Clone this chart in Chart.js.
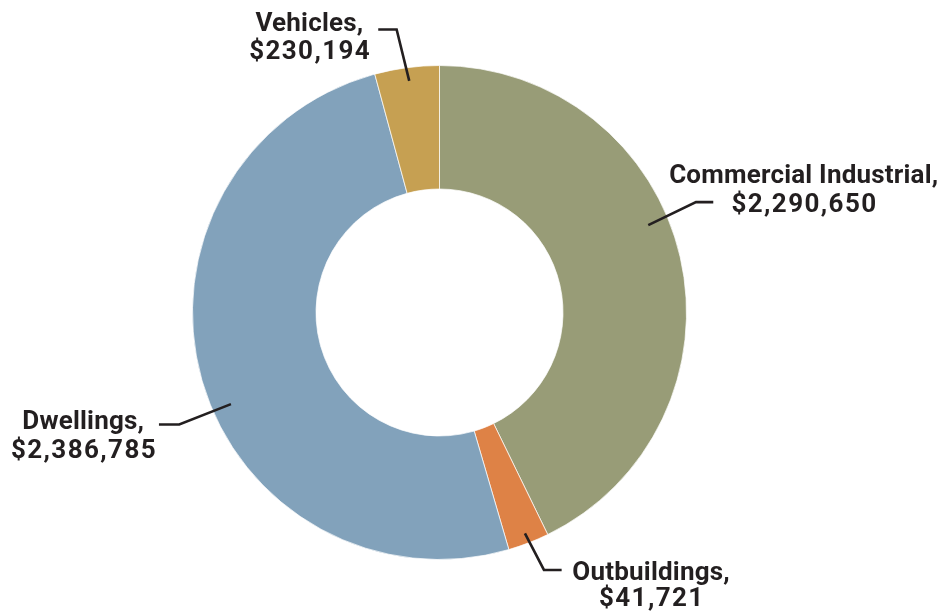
<!DOCTYPE html>
<html>
<head>
<meta charset="utf-8">
<script src="https://cdn.jsdelivr.net/npm/chart.js@4/dist/chart.umd.min.js"></script>
<style>
  html, body { margin: 0; padding: 0; background: #ffffff; }
  #wrap { width: 938px; height: 612px; }
</style>
</head>
<body>
<div id="wrap"><canvas id="c" width="938" height="612"></canvas></div>
<script>
// ---- data ----
const categories = ["Commercial Industrial", "Outbuildings", "Dwellings", "Vehicles"];
const amountLabels = ["$2,290,650", "$41,721", "$2,386,785", "$230,194"];
// slice shares (%) as drawn in the reference
const shares = [42.78, 2.69, 50.31, 4.22];
const colors = ["#989C77", "#DE8246", "#82A2BB", "#C6A052"];

// ---- label callout layout (annotation geometry, not data) ----
const callouts = [
  { frac: 0.437, inset: 20.7, elbow: [47.7, -23], run: 17.3, textDx: 90.5, base: [-18.7, 9.7] },
  { frac: 0.50,  inset: 10.2, elbow: [19, 36.6],  run: 17.7, textDx: 89.5, base: [10, 35.7] },
  { frac: 0.456, inset: 19.2, elbow: [-51.7, 20.3], run: -20.3, textDx: -75.7, base: [5, 33.4] },
  { frac: 0.51,  inset: 13.4, elbow: [-12.6, -51.4], run: -18.4, textDx: -68.8, base: [1.4, 30] }
];

const FONT = 'bold 26px Roboto, "Liberation Sans", Arial, sans-serif';
const INK = '#231F20';

const calloutPlugin = {
  id: 'callouts',
  afterDatasetsDraw(chart) {
    const ctx = chart.ctx;
    const meta = chart.getDatasetMeta(0);
    ctx.save();
    meta.data.forEach((arc, i) => {
      const c = callouts[i];
      const p = arc.getProps(['x', 'y', 'startAngle', 'endAngle', 'outerRadius'], true);
      const a = p.startAngle + c.frac * (p.endAngle - p.startAngle);
      const r = p.outerRadius - c.inset;
      const ax = p.x + Math.cos(a) * r;
      const ay = p.y + Math.sin(a) * r;
      const ex = ax + c.elbow[0];
      const ey = ay + c.elbow[1];
      const tx = ex + c.run;
      ctx.beginPath();
      ctx.moveTo(ax, ay);
      ctx.lineTo(ex, ey);
      ctx.lineTo(tx, ey);
      ctx.lineWidth = 2.6;
      ctx.strokeStyle = INK;
      ctx.lineJoin = 'miter';
      ctx.stroke();

      ctx.font = FONT;
      ctx.fillStyle = INK;
      ctx.textAlign = 'center';
      ctx.textBaseline = 'alphabetic';
      const cx = tx + c.textDx;
      ctx.letterSpacing = '0.2px';
      ctx.fillText(categories[i] + ',', cx, ey + c.base[0]);
      ctx.letterSpacing = '1.4px';
      ctx.fillText(amountLabels[i], cx + 0.7, ey + c.base[1]);
      ctx.letterSpacing = '0px';
    });
    ctx.restore();
  }
};

new Chart(document.getElementById('c'), {
  type: 'doughnut',
  data: {
    labels: categories,
    datasets: [{
      data: shares,
      backgroundColor: colors,
      borderColor: 'rgba(255,255,255,0.7)',
      borderWidth: 1,
      hoverOffset: 0
    }]
  },
  options: {
    responsive: false,
    animation: false,
    cutout: '50%',
    rotation: 0,
    layout: { padding: { top: 65, bottom: 52, left: 192, right: 251 } },
    plugins: {
      legend: { display: false },
      tooltip: { enabled: false }
    },
    events: []
  },
  plugins: [calloutPlugin]
});
</script>
</body>
</html>
